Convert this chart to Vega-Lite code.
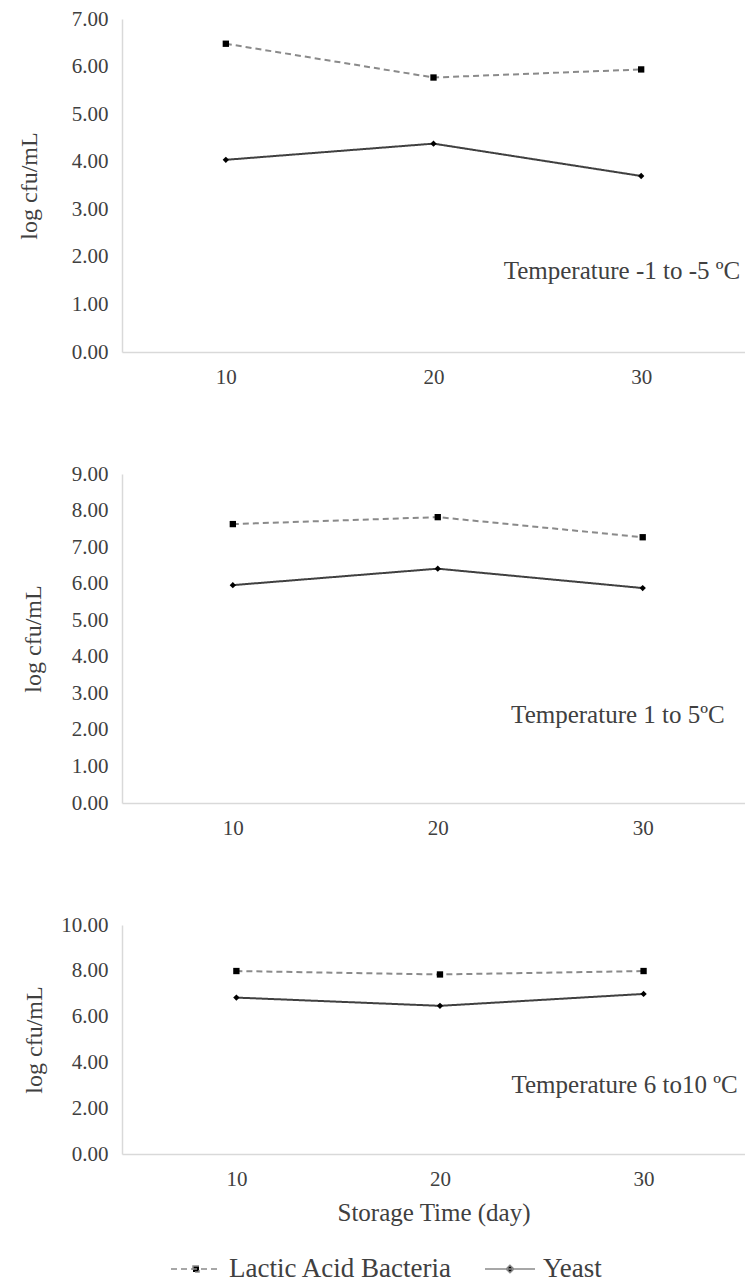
{
  "$schema": "https://vega.github.io/schema/vega-lite/v6.json",
  "padding": {"left": 17, "top": 8, "right": 0, "bottom": 5},
  "background": "white",
  "datasets": {
    "counts": [
      {"panel": 1, "day": 10, "series": "Lactic Acid Bacteria", "value": 6.48},
      {"panel": 1, "day": 20, "series": "Lactic Acid Bacteria", "value": 5.77},
      {"panel": 1, "day": 30, "series": "Lactic Acid Bacteria", "value": 5.94},
      {"panel": 1, "day": 10, "series": "Yeast", "value": 4.04},
      {"panel": 1, "day": 20, "series": "Yeast", "value": 4.38},
      {"panel": 1, "day": 30, "series": "Yeast", "value": 3.70},
      {"panel": 2, "day": 10, "series": "Lactic Acid Bacteria", "value": 7.63},
      {"panel": 2, "day": 20, "series": "Lactic Acid Bacteria", "value": 7.82},
      {"panel": 2, "day": 30, "series": "Lactic Acid Bacteria", "value": 7.27},
      {"panel": 2, "day": 10, "series": "Yeast", "value": 5.96},
      {"panel": 2, "day": 20, "series": "Yeast", "value": 6.41},
      {"panel": 2, "day": 30, "series": "Yeast", "value": 5.88},
      {"panel": 3, "day": 10, "series": "Lactic Acid Bacteria", "value": 7.99},
      {"panel": 3, "day": 20, "series": "Lactic Acid Bacteria", "value": 7.84},
      {"panel": 3, "day": 30, "series": "Lactic Acid Bacteria", "value": 7.99},
      {"panel": 3, "day": 10, "series": "Yeast", "value": 6.83},
      {"panel": 3, "day": 20, "series": "Yeast", "value": 6.47},
      {"panel": 3, "day": 30, "series": "Yeast", "value": 6.99}
    ]
  },
  "config": {
    "font": "Liberation Serif",
    "view": {"stroke": null},
    "axis": {
      "grid": false,
      "ticks": false,
      "domainColor": "#d9d9d9",
      "domainWidth": 1.5,
      "labelFont": "Liberation Serif",
      "labelFontSize": 21,
      "labelColor": "#404040",
      "labelOverlap": false,
      "titleFont": "Liberation Serif",
      "titleFontSize": 24,
      "titleFontWeight": "normal",
      "titleColor": "#404040"
    },
    "legend": {
      "labelFont": "Liberation Serif",
      "labelFontSize": 27,
      "labelColor": "#404040",
      "labelLimit": 0,
      "layout": {"bottom": {"anchor": "middle"}}
    }
  },
  "concat": [
    {
      "width": 623,
      "height": 333,
      "layer": [
        {
          "data": {"name": "counts"},
          "transform": [{"filter": "datum.panel === 1"}],
          "mark": {"type": "line", "strokeWidth": 2},
          "encoding": {
            "x": {"field": "day", "type": "ordinal", "axis": {"title": null, "labelAngle": 0, "labelPadding": 14}},
            "y": {"field": "value", "type": "quantitative", "scale": {"domain": [0, 7]}, "axis": {"title": "log cfu/mL", "format": ".2f", "values": [0,1,2,3,4,5,6,7], "labelPadding": 14, "titlePadding": 30}},
            "strokeDash": {"field": "series", "type": "nominal", "scale": {"domain": ["Lactic Acid Bacteria", "Yeast"], "range": [[6, 4], [1, 0]]}},
            "color": {"condition": {"test": "datum.series === 'Yeast'", "value": "#404040"}, "value": "#8a8a8a"}
          }
        },
        {
          "data": {"name": "counts"},
          "transform": [{"filter": "datum.panel === 1"}],
          "mark": {"type": "point", "filled": true, "opacity": 0},
          "encoding": {
            "x": {"field": "day", "type": "ordinal"},
            "y": {"field": "value", "type": "quantitative"},
            "shape": {"field": "series", "type": "nominal", "scale": {"domain": ["Lactic Acid Bacteria", "Yeast"], "range": ["M-1,0H1M-0.12,-0.12H0.12V0.12H-0.12Z", "M-1,0H1M0,-0.15L0.15,0L0,0.15L-0.15,0Z"]}, "legend": {
              "title": " ", "titleOrient": "right", "titleFontSize": 10, "titlePadding": 96,
              "orient": "bottom", "direction": "horizontal", "symbolSize": 2500, "labelOffset": 7, "columnPadding": 29, "offset": 18,
              "symbolOpacity": 1, "symbolFillColor": "black", "symbolStrokeColor": "#606060", "symbolStrokeWidth": 1.5
            }},
            "color": {"value": "black"}
          }
        },
        {
          "data": {"name": "counts"},
          "transform": [{"filter": "datum.panel === 1"}],
          "mark": {"type": "point", "filled": true, "opacity": 1},
          "encoding": {
            "x": {"field": "day", "type": "ordinal"},
            "y": {"field": "value", "type": "quantitative"},
            "shape": {"condition": {"test": "datum.series === 'Yeast'", "value": "diamond"}, "value": "square"},
            "color": {"value": "black"},
            "size": {"value": 40}
          }
        },
        {
          "data": {"values": [{"label": "Temperature -1 to -5 ºC"}]},
          "mark": {"type": "text", "align": "right", "baseline": "middle", "dx": 99, "fontSize": 25, "color": "#404040", "font": "Liberation Serif"},
          "encoding": {
            "x": {"datum": 30, "type": "ordinal"},
            "y": {"datum": 1.7, "type": "quantitative"},
            "text": {"field": "label", "type": "nominal"}
          }
        }
      ]
    },
    {
      "width": 623,
      "height": 329,
      "layer": [
        {
          "data": {"name": "counts"},
          "transform": [{"filter": "datum.panel === 2"}],
          "mark": {"type": "line", "strokeWidth": 2},
          "encoding": {
            "x": {"field": "day", "type": "ordinal", "scale": {"padding": 0.52, "align": 0.52}, "axis": {"title": null, "labelAngle": 0, "labelPadding": 14}},
            "y": {"field": "value", "type": "quantitative", "scale": {"domain": [0, 9]}, "axis": {"title": "log cfu/mL", "format": ".2f", "values": [0,1,2,3,4,5,6,7,8,9], "labelPadding": 14, "titlePadding": 26}},
            "strokeDash": {"field": "series", "type": "nominal", "scale": {"domain": ["Lactic Acid Bacteria", "Yeast"], "range": [[6, 4], [1, 0]]}},
            "color": {"condition": {"test": "datum.series === 'Yeast'", "value": "#404040"}, "value": "#8a8a8a"}
          }
        },
        {
          "data": {"name": "counts"},
          "transform": [{"filter": "datum.panel === 2"}],
          "mark": {"type": "point", "filled": true, "opacity": 1},
          "encoding": {
            "x": {"field": "day", "type": "ordinal", "axis": {"title": null, "labelAngle": 0, "labelPadding": 14}},
            "y": {"field": "value", "type": "quantitative", "axis": {"title": "log cfu/mL", "format": ".2f", "values": [0,1,2,3,4,5,6,7,8,9], "labelPadding": 14, "titlePadding": 26}},
            "shape": {"condition": {"test": "datum.series === 'Yeast'", "value": "diamond"}, "value": "square"},
            "color": {"value": "black"},
            "size": {"value": 40}
          }
        },
        {
          "data": {"values": [{"label": "Temperature 1 to 5ºC"}]},
          "mark": {"type": "text", "align": "right", "baseline": "middle", "dx": 82, "fontSize": 25, "color": "#404040", "font": "Liberation Serif"},
          "encoding": {
            "x": {"datum": 30, "type": "ordinal"},
            "y": {"datum": 2.42, "type": "quantitative", "axis": {"title": "log cfu/mL", "format": ".2f", "values": [0,1,2,3,4,5,6,7,8,9], "labelPadding": 14, "titlePadding": 26}},
            "text": {"field": "label", "type": "nominal"}
          }
        }
      ]
    },
    {
      "width": 623,
      "height": 229,
      "layer": [
        {
          "data": {"name": "counts"},
          "transform": [{"filter": "datum.panel === 3"}],
          "mark": {"type": "line", "strokeWidth": 2},
          "encoding": {
            "x": {"field": "day", "type": "ordinal", "scale": {"padding": 0.53, "align": 0.53}, "axis": {"title": "Storage Time (day)", "labelAngle": 0, "labelPadding": 14, "titlePadding": 11, "titleFontSize": 25}},
            "y": {"field": "value", "type": "quantitative", "scale": {"domain": [0, 10]}, "axis": {"title": "log cfu/mL", "format": ".2f", "values": [0,2,4,6,8,10], "labelPadding": 14, "titlePadding": 14}},
            "strokeDash": {"field": "series", "type": "nominal", "scale": {"domain": ["Lactic Acid Bacteria", "Yeast"], "range": [[6, 4], [1, 0]]}},
            "color": {"condition": {"test": "datum.series === 'Yeast'", "value": "#404040"}, "value": "#8a8a8a"}
          }
        },
        {
          "data": {"name": "counts"},
          "transform": [{"filter": "datum.panel === 3"}],
          "mark": {"type": "point", "filled": true, "opacity": 1},
          "encoding": {
            "x": {"field": "day", "type": "ordinal", "axis": {"title": "Storage Time (day)", "labelAngle": 0, "labelPadding": 14, "titlePadding": 11, "titleFontSize": 25}},
            "y": {"field": "value", "type": "quantitative", "axis": {"title": "log cfu/mL", "format": ".2f", "values": [0,2,4,6,8,10], "labelPadding": 14, "titlePadding": 14}},
            "shape": {"condition": {"test": "datum.series === 'Yeast'", "value": "diamond"}, "value": "square"},
            "color": {"value": "black"},
            "size": {"value": 40}
          }
        },
        {
          "data": {"values": [{"label": "Temperature 6 to10 ºC"}]},
          "mark": {"type": "text", "align": "right", "baseline": "middle", "dx": 94, "fontSize": 25, "color": "#404040", "font": "Liberation Serif"},
          "encoding": {
            "x": {"datum": 30, "type": "ordinal"},
            "y": {"datum": 3.0, "type": "quantitative", "axis": {"title": "log cfu/mL", "format": ".2f", "values": [0,2,4,6,8,10], "labelPadding": 14, "titlePadding": 14}},
            "text": {"field": "label", "type": "nominal"}
          }
        }
      ]
    }
  ],
  "columns": 1,
  "spacing": 76,
  "resolve": {
    "scale": {"strokeDash": "shared", "shape": "shared", "x": "independent", "y": "independent"},
    "legend": {"strokeDash": "shared", "shape": "shared"}
  }
}
